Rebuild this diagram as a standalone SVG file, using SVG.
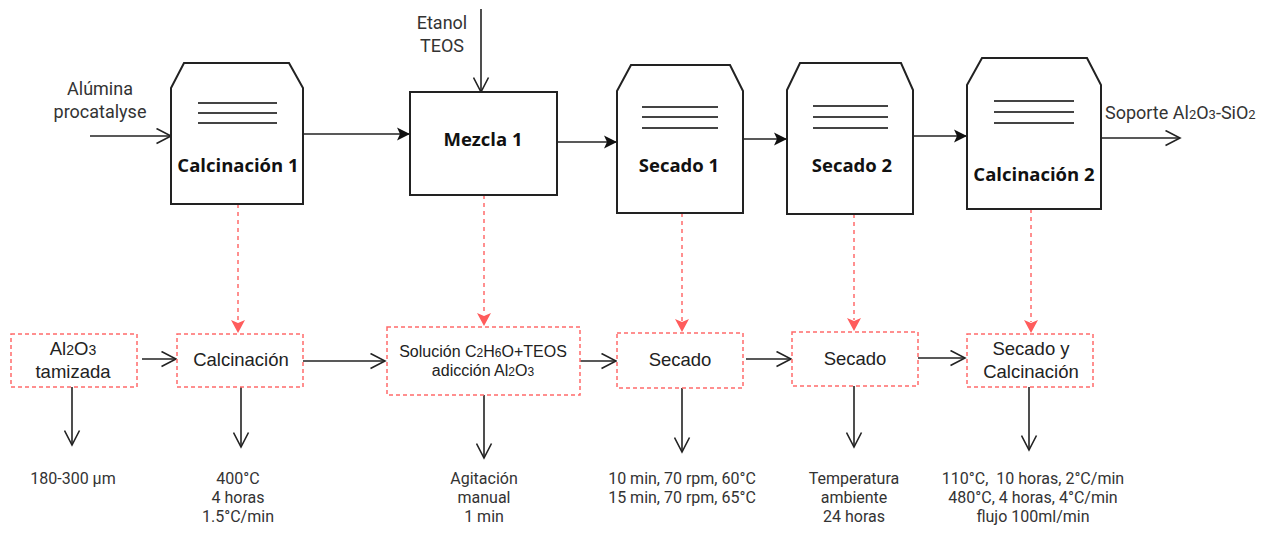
<svg xmlns="http://www.w3.org/2000/svg" width="1285" height="545" viewBox="0 0 1285 545">
<style>
.unit{fill:#fff;stroke:#222;stroke-width:2}
.bar{stroke:#444;stroke-width:2}
.title{font-family:"Open Sans","DejaVu Sans",sans-serif;font-weight:bold;font-size:18.5px;fill:#111;text-anchor:middle}
.lbl{font-family:Roboto,"Liberation Sans",sans-serif;font-size:18px;fill:#333;text-anchor:middle}
.box{fill:#fff;stroke:#ff6b6b;stroke-width:1.5;stroke-dasharray:4 3}
.btxt{font-family:"Liberation Sans",Arial,sans-serif;font-size:18.5px;fill:#222;text-anchor:middle}
.stxt{font-family:"Liberation Sans",Arial,sans-serif;font-size:16px;fill:#222;text-anchor:middle}
.note{font-family:Roboto,"Liberation Sans",sans-serif;font-size:16px;fill:#333;text-anchor:middle}
.open{stroke:#222;stroke-width:1.6;fill:none;marker-end:url(#open)}
.solid{stroke:#222;stroke-width:1.6;fill:none;marker-end:url(#solid)}
.rd{stroke:#ff6b6b;stroke-width:1.5;stroke-dasharray:4 4;fill:none}
.rh{fill:#ff5c5c}
</style>
<defs>
<marker id="open" markerUnits="userSpaceOnUse" markerWidth="17" markerHeight="17" viewBox="0 0 17 17" refX="15.5" refY="8.5" orient="auto">
<path d="M1,1 L15.5,8.5 L1,16" fill="none" stroke="#222" stroke-width="1.6"/>
</marker>
<marker id="solid" markerUnits="userSpaceOnUse" markerWidth="14" markerHeight="14" viewBox="0 0 14 14" refX="13" refY="7" orient="auto">
<path d="M0,0.5 L13,7 L0,13.5 L3,7 z" fill="#111"/>
</marker>
</defs>

<g id="connectors">
<line class="open" x1="90" y1="136" x2="171" y2="136"/>
<line class="open" x1="481" y1="9" x2="481" y2="92"/>
<line class="solid" x1="303" y1="134" x2="410" y2="134"/>
<line class="solid" x1="557" y1="142" x2="617" y2="142"/>
<line class="solid" x1="743" y1="139" x2="787" y2="139"/>
<line class="solid" x1="913" y1="136" x2="967" y2="136"/>
<line class="open" x1="1101" y1="138" x2="1180" y2="138"/>
<path class="rd" d="M238,204 V322"/>
<path class="rd" d="M484,195 V315"/>
<path class="rd" d="M682,213 V321"/>
<path class="rd" d="M854,214 V320"/>
<path class="rd" d="M1031,209 V322"/>
<path class="rh" d="M231,320 L238,333 L245,320 L238,323 z"/>
<path class="rh" d="M477,313 L484,326 L491,313 L484,316 z"/>
<path class="rh" d="M675,319 L682,332 L689,319 L682,322 z"/>
<path class="rh" d="M847,318 L854,331 L861,318 L854,321 z"/>
<path class="rh" d="M1024,320 L1031,333 L1038,320 L1031,323 z"/>
<line class="open" x1="142" y1="359" x2="176" y2="359"/>
<line class="open" x1="303" y1="361" x2="385" y2="361"/>
<line class="open" x1="580" y1="361" x2="616" y2="361"/>
<line class="open" x1="746" y1="359" x2="791" y2="359"/>
<line class="open" x1="915" y1="358" x2="965" y2="358"/>
<line class="open" x1="72" y1="387" x2="72" y2="445"/>
<line class="open" x1="241" y1="387" x2="241" y2="447"/>
<line class="open" x1="484" y1="395" x2="484" y2="458"/>
<line class="open" x1="682" y1="388" x2="682" y2="452"/>
<line class="open" x1="854" y1="386" x2="854" y2="447"/>
<line class="open" x1="1029" y1="387" x2="1029" y2="450"/>
</g>

<g id="input-alumina">
<text class="lbl" x="100" y="95">Alúmina</text>
<text class="lbl" x="100" y="118">procatalyse</text>
</g>
<g id="input-etanol">
<text class="lbl" x="442" y="29">Etanol</text>
<text class="lbl" x="442" y="52">TEOS</text>
</g>
<g id="output-soporte">
<text class="lbl" x="1105" y="119" style="text-anchor:start">Soporte Al<tspan font-size="13">2</tspan>O<tspan font-size="13">3</tspan>-SiO<tspan font-size="13">2</tspan></text>
</g>

<g id="calcinacion1">
<path class="unit" d="M184,63 H289 L303,88 V204 H171 V88 Z"/>
<line class="bar" x1="198" y1="103" x2="277" y2="103"/>
<line class="bar" x1="198" y1="113" x2="277" y2="113"/>
<line class="bar" x1="198" y1="123" x2="277" y2="123"/>
<text class="title" x="238" y="172">Calcinación 1</text>
</g>
<g id="mezcla1">
<rect class="unit" x="410" y="92" width="147" height="103"/>
<text class="title" x="483" y="146">Mezcla 1</text>
</g>
<g id="secado1">
<path class="unit" d="M631,65 H730 L743,91 V213 H617 V91 Z"/>
<line class="bar" x1="642" y1="107" x2="718" y2="107"/>
<line class="bar" x1="642" y1="117" x2="718" y2="117"/>
<line class="bar" x1="642" y1="128" x2="718" y2="128"/>
<text class="title" x="679" y="172">Secado 1</text>
</g>
<g id="secado2">
<path class="unit" d="M800,63 H901 L913,90 V214 H787 V90 Z"/>
<line class="bar" x1="813" y1="106" x2="888" y2="106"/>
<line class="bar" x1="813" y1="117" x2="888" y2="117"/>
<line class="bar" x1="813" y1="128" x2="888" y2="128"/>
<text class="title" x="852" y="172">Secado 2</text>
</g>
<g id="calcinacion2">
<path class="unit" d="M982,58 H1087 L1101,85 V209 H967 V85 Z"/>
<line class="bar" x1="994" y1="101" x2="1074" y2="101"/>
<line class="bar" x1="994" y1="112" x2="1074" y2="112"/>
<line class="bar" x1="994" y1="123" x2="1074" y2="123"/>
<text class="title" x="1034" y="181">Calcinación 2</text>
</g>

<g id="b-al2o3">
<rect class="box" x="11" y="334" width="126" height="53"/>
<text class="btxt" x="73" y="355">Al<tspan font-size="14">2</tspan>O<tspan font-size="14">3</tspan></text>
<text class="btxt" x="73" y="378">tamizada</text>
</g>
<g id="b-calcinacion">
<rect class="box" x="177" y="334" width="126" height="53"/>
<text class="btxt" x="241" y="366">Calcinación</text>
</g>
<g id="b-solucion">
<rect class="box" x="387" y="327" width="193" height="68"/>
<text class="stxt" x="483" y="357">Solución C<tspan font-size="12">2</tspan>H<tspan font-size="12">6</tspan>O+TEOS</text>
<text class="stxt" x="483" y="376">adicción Al<tspan font-size="12">2</tspan>O<tspan font-size="12">3</tspan></text>
</g>
<g id="b-secado1">
<rect class="box" x="617" y="333" width="126" height="55"/>
<text class="btxt" x="680" y="366">Secado</text>
</g>
<g id="b-secado2">
<rect class="box" x="792" y="332" width="126" height="54"/>
<text class="btxt" x="855" y="365">Secado</text>
</g>
<g id="b-secadocalc">
<rect class="box" x="967" y="334" width="126" height="53"/>
<text class="btxt" x="1031" y="355">Secado y</text>
<text class="btxt" x="1031" y="378">Calcinación</text>
</g>

<g id="n-size">
<text class="note" x="73" y="484">180-300 µm</text>
</g>
<g id="n-calc">
<text class="note" x="238" y="484">400°C</text>
<text class="note" x="238" y="503">4 horas</text>
<text class="note" x="238" y="522">1.5°C/min</text>
</g>
<g id="n-agit">
<text class="note" x="484" y="484">Agitación</text>
<text class="note" x="484" y="503">manual</text>
<text class="note" x="484" y="522">1 min</text>
</g>
<g id="n-secado1">
<text class="note" x="682" y="484">10 min, 70 rpm, 60°C</text>
<text class="note" x="682" y="503">15 min, 70 rpm, 65°C</text>
</g>
<g id="n-secado2">
<text class="note" x="854" y="484">Temperatura</text>
<text class="note" x="854" y="503">ambiente</text>
<text class="note" x="854" y="522">24 horas</text>
</g>
<g id="n-calc2">
<text class="note" x="1033" y="484" xml:space="preserve">110°C,  10 horas, 2°C/min</text>
<text class="note" x="1033" y="503">480°C, 4 horas, 4°C/min</text>
<text class="note" x="1033" y="522">flujo 100ml/min</text>
</g>
</svg>
